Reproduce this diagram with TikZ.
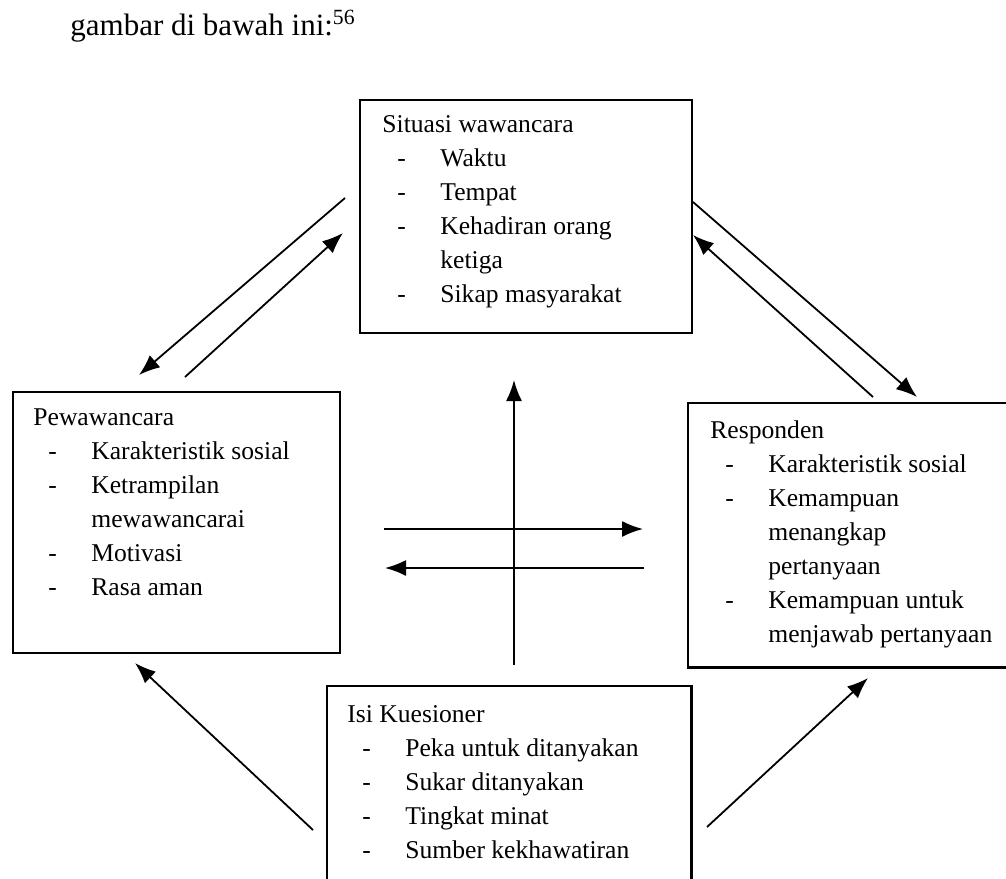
\documentclass[tikz,border=0pt]{standalone}
\usepackage{fontspec}
\setmainfont{Liberation Serif}
\usetikzlibrary{arrows.meta, fit}

\newcommand{\itm}[1]{\makebox[29pt][l]{\hspace{7.5pt}-}#1}
\newcommand{\cont}[1]{\hspace*{29pt}#1}

\begin{document}
\begin{tikzpicture}[x=0.5pt, y=-0.5pt, >={Latex[length=10.5pt,width=8pt]},
  box/.style={draw, line width=1.1pt, inner sep=0pt},
  txt/.style={anchor=north west, inner sep=0pt, align=left,
    font=\fontsize{12.8pt}{17pt}\selectfont},
  conn/.style={->, line width=0.9pt}]
  \useasboundingbox (0,0) rectangle (1006,878);
  \node (judul) at (70,35) [anchor=base west, inner sep=0pt,
    font=\fontsize{15.5pt}{18pt}\selectfont] {gambar di bawah ini:\textsuperscript{56}};

  % kotak
  \node (situasi) [box, fit={(360,100) (692,333)}] {};
  \node (pewawancara) [box, fit={(13,392) (340,653)}] {};
  \node (responden) [inner sep=0pt, fit={(688,403) (1012,667)}] {};
  \draw [line width=1.1pt] (responden.north east) -- (responden.north west)
    -- (responden.south west) -- (responden.south east);
  \node (kuesioner) [inner sep=0pt, fit={(327,686) (691,884)}] {};
  \draw [line width=1.1pt] (kuesioner.south west) -- (kuesioner.north west)
    -- (kuesioner.north east) -- (kuesioner.south east);

  % isi kotak
  \node (situasiT) at (382,115) [txt] {Situasi wawancara\\ \itm{Waktu}\\
    \itm{Tempat}\\ \itm{Kehadiran orang}\\ \cont{ketiga}\\ \itm{Sikap masyarakat}};
  \node (pewawancaraT) at (33,408) [txt] {Pewawancara\\ \itm{Karakteristik sosial}\\
    \itm{Ketrampilan}\\ \cont{mewawancarai}\\ \itm{Motivasi}\\ \itm{Rasa aman}};
  \node (respondenT) at (710,420) [txt] {Responden\\ \itm{Karakteristik sosial}\\
    \itm{Kemampuan}\\ \cont{menangkap}\\ \cont{pertanyaan}\\
    \itm{Kemampuan untuk}\\ \cont{menjawab pertanyaan}};
  \node (kuesionerT) at (347,705) [txt] {Isi Kuesioner\\ \itm{Peka untuk ditanyakan}\\
    \itm{Sukar ditanyakan}\\ \itm{Tingkat minat}\\ \itm{Sumber kekhawatiran}};

  % ujung panah
  \coordinate (sitA) at (345,198);   \coordinate (pewA) at (139,375);
  \coordinate (pewB) at (185,377);   \coordinate (sitB) at (343,233);
  \coordinate (sitC) at (693,202);   \coordinate (resC) at (917,397);
  \coordinate (resD) at (873,397);   \coordinate (sitD) at (693,235);
  \coordinate (kueV) at (514,665);   \coordinate (sitV) at (514,380);
  \coordinate (pewH) at (384,529);   \coordinate (resH) at (643,529);
  \coordinate (resK) at (644,568);   \coordinate (pewK) at (385,568);
  \coordinate (kueL) at (313,830);   \coordinate (pewL) at (135,663);
  \coordinate (kueR) at (707,827);   \coordinate (resR) at (868,678);

  \draw [conn] (sitA) -- (pewA);
  \draw [conn] (pewB) -- (sitB);
  \draw [conn] (sitC) -- (resC);
  \draw [conn] (resD) -- (sitD);
  \draw [conn] (kueV) -- (sitV);
  \draw [conn] (pewH) -- (resH);
  \draw [conn] (resK) -- (pewK);
  \draw [conn] (kueL) -- (pewL);
  \draw [conn] (kueR) -- (resR);
\end{tikzpicture}
\end{document}
